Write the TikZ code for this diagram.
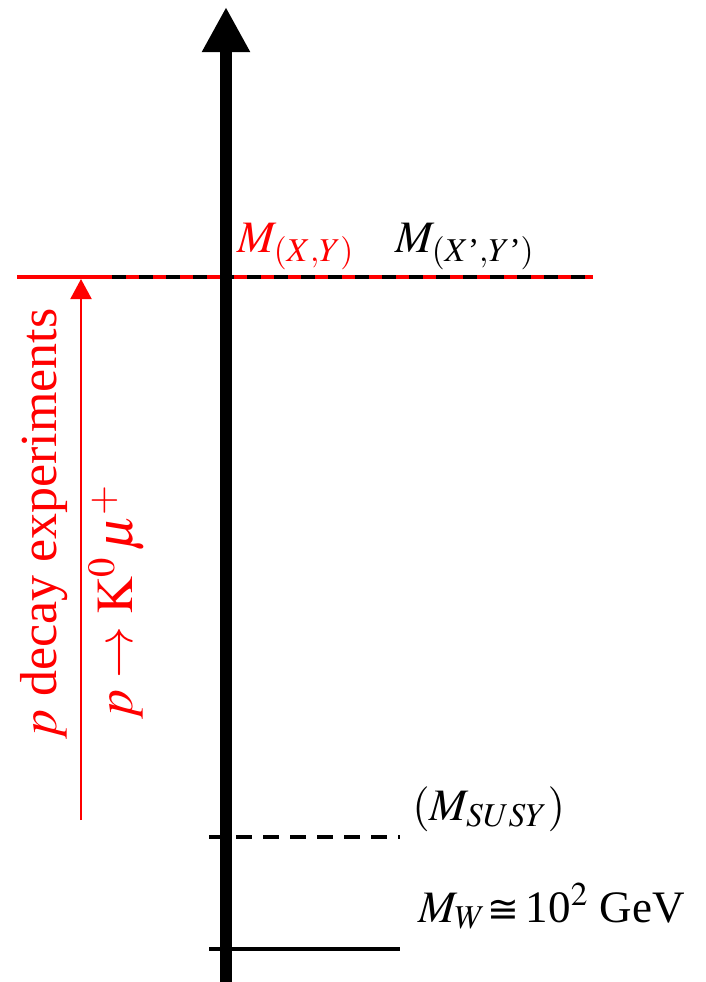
\documentclass[tikz,border=0pt]{standalone}
\usepackage{amsmath}
\usepackage{mathptmx}
\usepackage{fontspec}
\setmainfont{Liberation Serif}
\newfontfamily\relsymfont{DejaVu Sans}
\usetikzlibrary{arrows.meta}
\begin{document}
\begin{tikzpicture}[x=0.5pt,y=-0.5pt,
  lbl/.style={inner sep=0pt, anchor=base west, font=\fontsize{22.5}{27}\selectfont},
  vlbl/.style={inner sep=0pt, rotate=90, anchor=base west, red, font=\fontsize{26}{31}\selectfont},
  level/.style={line width=2pt},
  axis/.style={line width=6pt, -{Triangle[length=22.5pt,width=22.5pt]}},
  ]
\useasboundingbox (0,0) rectangle (706,982);
% coordinates
\coordinate (ab) at (226,982);
\coordinate (at) at (226,7);
\coordinate (gl) at (17,277);
\coordinate (gm) at (112,277);
\coordinate (gr) at (593,277);
\coordinate (sl) at (209,837);
\coordinate (sr) at (400,837);
\coordinate (wl) at (209,949);
\coordinate (wr) at (400,949);
\coordinate (pb) at (81,820);
\coordinate (pt) at (81,279);
% GUT level
\draw[red, level] (gl) -- (gr);
\draw[black, level, dash pattern=on 7pt off 6.5pt] (gm) -- (gr);
% SUSY and W levels
\draw[level, dash pattern=on 8pt off 5.5pt] (sl) -- (sr);
\draw[level] (wl) -- (wr);
% axis
\draw[axis] (ab) -- (at);
% proton decay arrow
\draw[red, line width=1pt, -{Triangle[length=10pt,width=10.5pt]}] (pb) -- (pt);
% labels
\node[lbl, red] (mxy) at (237,252) {$M_{(X,Y)}$};
\node[lbl] (mxpyp) at (395,252) {$M_{(X\text{’},Y\text{’})}$};
\node[lbl] (msusy) at (412,820) {$(M_{SUSY})$};
\node[lbl] (mw) at (418,922) {$M_W$\kern1pt{\relsymfont\fontsize{19}{22}\selectfont ≅}\kern3pt10$^2$ GeV};
\node[vlbl] (pdec) at (56,740) {$p$ decay experiments};
\node[vlbl] (pk) at (133,720) {$p\rightarrow \mathrm{K}^0\,\mu^+$};
\end{tikzpicture}
\end{document}
